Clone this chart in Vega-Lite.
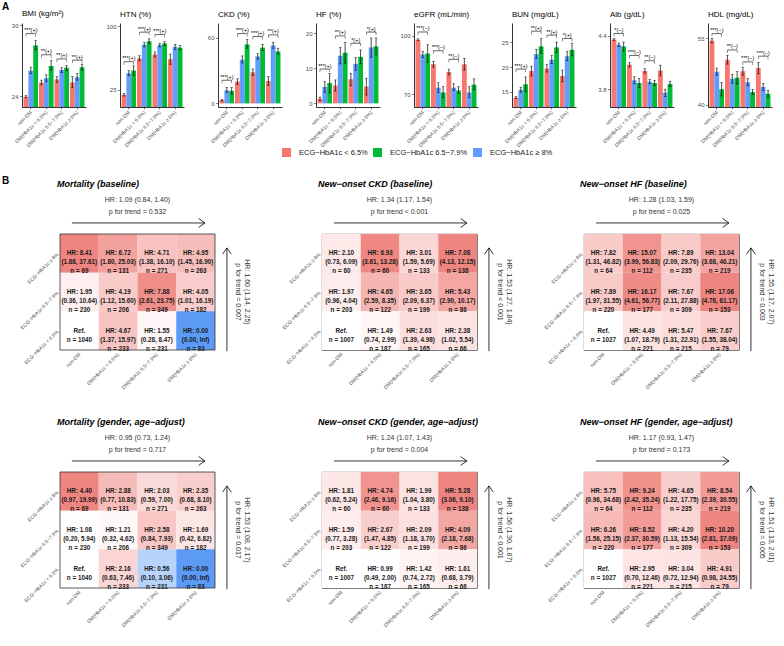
{
"$schema": "https://vega.github.io/schema/vega-lite/v6.json",
"padding": 2,
"background": "white",
"config": {
 "font": "Liberation Sans",
 "view": {"stroke": null},
 "axis": {"grid": false, "domainColor": "#000000", "domainWidth": 0.8, "tickColor": "#333333", "tickWidth": 0.6, "tickSize": 2.5, "labelFontSize": 6, "labelColor": "#4d4d4d", "labelPadding": 1.5},
 "title": {"fontSize": 8, "fontWeight": "normal", "anchor": "start", "frame": "group", "offset": 4, "color": "#000000"}
},
"datasets": {
 "bars": [
  {"m":"BMI","g":"n","s":"L","v":23.95,"lo":23.85,"hi":24.05},{"m":"BMI","g":"n","s":"H","v":26.15,"lo":25.9,"hi":26.45},{"m":"BMI","g":"n","s":"M","v":28.3,"lo":27.95,"hi":28.7},
  {"m":"BMI","g":"a","s":"L","v":25.15,"lo":24.95,"hi":25.35},{"m":"BMI","g":"a","s":"H","v":25.5,"lo":25.25,"hi":25.8},{"m":"BMI","g":"a","s":"M","v":26.55,"lo":26.2,"hi":27.0},
  {"m":"BMI","g":"b","s":"L","v":25.4,"lo":25.15,"hi":25.65},{"m":"BMI","g":"b","s":"H","v":26.2,"lo":26.0,"hi":26.4},{"m":"BMI","g":"b","s":"M","v":26.4,"lo":26.15,"hi":26.6},
  {"m":"BMI","g":"c","s":"L","v":25.15,"lo":24.7,"hi":25.65},{"m":"BMI","g":"c","s":"H","v":25.6,"lo":25.35,"hi":25.9},{"m":"BMI","g":"c","s":"M","v":26.45,"lo":26.2,"hi":26.7},
  {"m":"HTN","g":"n","s":"L","v":19,"lo":17.5,"hi":20.5},{"m":"HTN","g":"n","s":"H","v":44.5,"lo":41.5,"hi":47.5},{"m":"HTN","g":"n","s":"M","v":47.5,"lo":42,"hi":53},
  {"m":"HTN","g":"a","s":"L","v":62,"lo":59,"hi":65},{"m":"HTN","g":"a","s":"H","v":78,"lo":75.5,"hi":80.5},{"m":"HTN","g":"a","s":"M","v":82,"lo":79,"hi":85},
  {"m":"HTN","g":"b","s":"L","v":66.5,"lo":63.5,"hi":69.5},{"m":"HTN","g":"b","s":"H","v":77.5,"lo":75.5,"hi":79.5},{"m":"HTN","g":"b","s":"M","v":79.5,"lo":77,"hi":81.5},
  {"m":"HTN","g":"c","s":"L","v":61,"lo":55,"hi":67},{"m":"HTN","g":"c","s":"H","v":75.5,"lo":72.5,"hi":78.5},{"m":"HTN","g":"c","s":"M","v":74.5,"lo":72,"hi":77},
  {"m":"CKD","g":"n","s":"L","v":3,"lo":2.2,"hi":3.8},{"m":"CKD","g":"n","s":"H","v":12,"lo":10,"hi":14.5},{"m":"CKD","g":"n","s":"M","v":11.5,"lo":8.5,"hi":14.5},
  {"m":"CKD","g":"a","s":"L","v":20,"lo":17.5,"hi":22.5},{"m":"CKD","g":"a","s":"H","v":40,"lo":37,"hi":43.5},{"m":"CKD","g":"a","s":"M","v":54,"lo":50.5,"hi":58.5},
  {"m":"CKD","g":"b","s":"L","v":28.5,"lo":25.5,"hi":31.5},{"m":"CKD","g":"b","s":"H","v":43,"lo":40.5,"hi":45.5},{"m":"CKD","g":"b","s":"M","v":51,"lo":48.5,"hi":54},
  {"m":"CKD","g":"c","s":"L","v":20.5,"lo":16.5,"hi":24.5},{"m":"CKD","g":"c","s":"H","v":53,"lo":50.5,"hi":56},{"m":"CKD","g":"c","s":"M","v":47.5,"lo":45,"hi":50.5},
  {"m":"HF","g":"n","s":"L","v":1.3,"lo":0.8,"hi":1.8},{"m":"HF","g":"n","s":"H","v":4.7,"lo":3.2,"hi":6.2},{"m":"HF","g":"n","s":"M","v":5.8,"lo":3,"hi":8.6},
  {"m":"HF","g":"a","s":"L","v":5.1,"lo":3.5,"hi":6.7},{"m":"HF","g":"a","s":"H","v":13.6,"lo":11.3,"hi":16},{"m":"HF","g":"a","s":"M","v":14.5,"lo":11.5,"hi":17.5},
  {"m":"HF","g":"b","s":"L","v":6.9,"lo":5.1,"hi":8.6},{"m":"HF","g":"b","s":"H","v":11.3,"lo":9.5,"hi":13.1},{"m":"HF","g":"b","s":"M","v":13.3,"lo":11.3,"hi":15.3},
  {"m":"HF","g":"c","s":"L","v":4.8,"lo":2.4,"hi":7.2},{"m":"HF","g":"c","s":"H","v":16,"lo":13.2,"hi":18.7},{"m":"HF","g":"c","s":"M","v":16.3,"lo":13.9,"hi":18.7},
  {"m":"eGFR","g":"n","s":"L","v":98,"lo":97.5,"hi":98.5},{"m":"eGFR","g":"n","s":"H","v":90.5,"lo":89,"hi":92},{"m":"eGFR","g":"n","s":"M","v":91,"lo":86.5,"hi":95.5},
  {"m":"eGFR","g":"a","s":"L","v":85.5,"lo":84,"hi":87},{"m":"eGFR","g":"a","s":"H","v":73.5,"lo":71,"hi":76},{"m":"eGFR","g":"a","s":"M","v":71,"lo":68.5,"hi":74},
  {"m":"eGFR","g":"b","s":"L","v":81.5,"lo":80,"hi":83},{"m":"eGFR","g":"b","s":"H","v":73.5,"lo":72,"hi":75.5},{"m":"eGFR","g":"b","s":"M","v":72,"lo":70.5,"hi":74},
  {"m":"eGFR","g":"c","s":"L","v":85.5,"lo":82.5,"hi":88.5},{"m":"eGFR","g":"c","s":"H","v":71,"lo":68.5,"hi":74},{"m":"eGFR","g":"c","s":"M","v":75,"lo":72.5,"hi":78},
  {"m":"BUN","g":"n","s":"L","v":13.8,"lo":13.6,"hi":14.0},{"m":"BUN","g":"n","s":"H","v":15.4,"lo":14.9,"hi":15.9},{"m":"BUN","g":"n","s":"M","v":16.5,"lo":15,"hi":18},
  {"m":"BUN","g":"a","s":"L","v":19.2,"lo":18.2,"hi":20.2},{"m":"BUN","g":"a","s":"H","v":22.6,"lo":21.8,"hi":23.6},{"m":"BUN","g":"a","s":"M","v":24.2,"lo":22.8,"hi":25.8},
  {"m":"BUN","g":"b","s":"L","v":19.7,"lo":19,"hi":20.5},{"m":"BUN","g":"b","s":"H","v":21.5,"lo":20.7,"hi":22.4},{"m":"BUN","g":"b","s":"M","v":24,"lo":23,"hi":25.1},
  {"m":"BUN","g":"c","s":"L","v":18.2,"lo":17,"hi":19.4},{"m":"BUN","g":"c","s":"H","v":22.2,"lo":21.3,"hi":23.2},{"m":"BUN","g":"c","s":"M","v":23.5,"lo":22.3,"hi":24.8},
  {"m":"Alb","g":"n","s":"L","v":4.36,"lo":4.35,"hi":4.37},{"m":"Alb","g":"n","s":"H","v":4.30,"lo":4.28,"hi":4.32},{"m":"Alb","g":"n","s":"M","v":4.28,"lo":4.23,"hi":4.33},
  {"m":"Alb","g":"a","s":"L","v":4.075,"lo":4.05,"hi":4.10},{"m":"Alb","g":"a","s":"H","v":3.90,"lo":3.86,"hi":3.94},{"m":"Alb","g":"a","s":"M","v":3.87,"lo":3.82,"hi":3.92},
  {"m":"Alb","g":"b","s":"L","v":4.005,"lo":3.98,"hi":4.03},{"m":"Alb","g":"b","s":"H","v":3.885,"lo":3.86,"hi":3.91},{"m":"Alb","g":"b","s":"M","v":3.87,"lo":3.84,"hi":3.90},
  {"m":"Alb","g":"c","s":"L","v":4.01,"lo":3.95,"hi":4.07},{"m":"Alb","g":"c","s":"H","v":3.76,"lo":3.72,"hi":3.80},{"m":"Alb","g":"c","s":"M","v":3.86,"lo":3.83,"hi":3.89},
  {"m":"HDL","g":"n","s":"L","v":54.5,"lo":54,"hi":55},{"m":"HDL","g":"n","s":"H","v":47.5,"lo":46.7,"hi":48.3},{"m":"HDL","g":"n","s":"M","v":43.5,"lo":42,"hi":45},
  {"m":"HDL","g":"a","s":"L","v":50.2,"lo":49.2,"hi":51.2},{"m":"HDL","g":"a","s":"H","v":45.9,"lo":44.9,"hi":46.9},{"m":"HDL","g":"a","s":"M","v":46.1,"lo":44.7,"hi":47.5},
  {"m":"HDL","g":"b","s":"L","v":47.6,"lo":46.7,"hi":48.5},{"m":"HDL","g":"b","s":"H","v":45.1,"lo":44.3,"hi":45.9},{"m":"HDL","g":"b","s":"M","v":42.9,"lo":42.3,"hi":43.5},
  {"m":"HDL","g":"c","s":"L","v":48.3,"lo":47,"hi":49.6},{"m":"HDL","g":"c","s":"H","v":44,"lo":43.2,"hi":44.8},{"m":"HDL","g":"c","s":"M","v":42.5,"lo":41.7,"hi":43.3}
 ],
 "sig": [
  {"m":"BMI","g":"n","y":29.3,"t":"***(+)"},{"m":"BMI","g":"a","y":27.5,"t":"**(+)"},{"m":"BMI","g":"b","y":27.15,"t":"**(+)"},{"m":"BMI","g":"c","y":27.05,"t":"**(+)"},
  {"m":"HTN","g":"n","y":58,"t":"***(+)"},{"m":"HTN","g":"a","y":92.8,"t":"***(+)"},{"m":"HTN","g":"b","y":90,"t":"***(+)"},
  {"m":"CKD","g":"n","y":21.2,"t":"***(+)"},{"m":"CKD","g":"a","y":63.9,"t":"***(+)"},{"m":"CKD","g":"b","y":61.2,"t":"***(+)"},{"m":"CKD","g":"c","y":62.7,"t":"**(+)"},
  {"m":"HF","g":"n","y":9.8,"t":"***(+)"},{"m":"HF","g":"a","y":19.3,"t":"**(+)"},{"m":"HF","g":"b","y":17.2,"t":"*(+)"},{"m":"HF","g":"c","y":20.4,"t":"*(+)"},
  {"m":"eGFR","g":"n","y":102,"t":"***(−)"},{"m":"eGFR","g":"a","y":92.4,"t":"***(−)"},{"m":"eGFR","g":"b","y":88,"t":"**(−)"},
  {"m":"BUN","g":"n","y":19.6,"t":"***(+)"},{"m":"BUN","g":"a","y":27.3,"t":"**(+)"},{"m":"BUN","g":"b","y":26.5,"t":"**(+)"},{"m":"BUN","g":"c","y":25.8,"t":"*(+)"},
  {"m":"Alb","g":"n","y":4.426,"t":"*(−)"},{"m":"Alb","g":"a","y":4.18,"t":"***(−)"},{"m":"Alb","g":"b","y":4.12,"t":"**(−)"},
  {"m":"HDL","g":"n","y":56.1,"t":"***(−)"},{"m":"HDL","g":"a","y":52.4,"t":"**(−)"},{"m":"HDL","g":"b","y":49.7,"t":"***(−)"},{"m":"HDL","g":"c","y":51,"t":"***(−)"}
 ],
 "cells": [
  {"p":1,"c":"n","r":"H","hr":8.41,"lab":"HR: 8.41\n(1.88, 37.61)\nn = 69"},
  {"p":1,"c":"a","r":"H","hr":6.72,"lab":"HR: 6.72\n(1.80, 25.03)\nn = 131"},
  {"p":1,"c":"b","r":"H","hr":4.71,"lab":"HR: 4.71\n(1.38, 16.10)\nn = 271"},
  {"p":1,"c":"c","r":"H","hr":4.95,"lab":"HR: 4.95\n(1.45, 16.90)\nn = 263"},
  {"p":1,"c":"n","r":"M","hr":1.95,"lab":"HR: 1.95\n(0.36, 10.64)\nn = 230"},
  {"p":1,"c":"a","r":"M","hr":4.19,"lab":"HR: 4.19\n(1.12, 15.60)\nn = 206"},
  {"p":1,"c":"b","r":"M","hr":7.88,"lab":"HR: 7.88\n(2.61, 23.75)\nn = 349"},
  {"p":1,"c":"c","r":"M","hr":4.05,"lab":"HR: 4.05\n(1.01, 16.19)\nn = 182"},
  {"p":1,"c":"n","r":"L","hr":1,"lab":"Ref.\nn = 1040"},
  {"p":1,"c":"a","r":"L","hr":4.67,"lab":"HR: 4.67\n(1.37, 15.97)\nn = 233"},
  {"p":1,"c":"b","r":"L","hr":1.55,"lab":"HR: 1.55\n(0.28, 8.47)\nn = 231"},
  {"p":1,"c":"c","r":"L","hr":0,"lab":"HR: 0.00\n(0.00, Inf)\nn = 83"},
  {"p":2,"c":"n","r":"H","hr":2.10,"lab":"HR: 2.10\n(0.73, 6.09)\nn = 60"},
  {"p":2,"c":"a","r":"H","hr":6.93,"lab":"HR: 6.93\n(3.61, 13.28)\nn = 60"},
  {"p":2,"c":"b","r":"H","hr":3.01,"lab":"HR: 3.01\n(1.59, 5.69)\nn = 133"},
  {"p":2,"c":"c","r":"H","hr":7.08,"lab":"HR: 7.08\n(4.13, 12.15)\nn = 138"},
  {"p":2,"c":"n","r":"M","hr":1.97,"lab":"HR: 1.97\n(0.96, 4.04)\nn = 203"},
  {"p":2,"c":"a","r":"M","hr":4.65,"lab":"HR: 4.65\n(2.59, 8.35)\nn = 122"},
  {"p":2,"c":"b","r":"M","hr":3.65,"lab":"HR: 3.65\n(2.09, 6.37)\nn = 199"},
  {"p":2,"c":"c","r":"M","hr":5.43,"lab":"HR: 5.43\n(2.90, 10.17)\nn = 86"},
  {"p":2,"c":"n","r":"L","hr":1,"lab":"Ref.\nn = 1007"},
  {"p":2,"c":"a","r":"L","hr":1.49,"lab":"HR: 1.49\n(0.74, 2.99)\nn = 187"},
  {"p":2,"c":"b","r":"L","hr":2.63,"lab":"HR: 2.63\n(1.39, 4.98)\nn = 165"},
  {"p":2,"c":"c","r":"L","hr":2.38,"lab":"HR: 2.38\n(1.02, 5.54)\nn = 66"},
  {"p":3,"c":"n","r":"H","hr":7.82,"lab":"HR: 7.82\n(1.31, 46.82)\nn = 64"},
  {"p":3,"c":"a","r":"H","hr":15.07,"lab":"HR: 15.07\n(3.99, 56.83)\nn = 112"},
  {"p":3,"c":"b","r":"H","hr":7.89,"lab":"HR: 7.89\n(2.09, 29.76)\nn = 235"},
  {"p":3,"c":"c","r":"H","hr":13.04,"lab":"HR: 13.04\n(3.68, 46.21)\nn = 219"},
  {"p":3,"c":"n","r":"M","hr":7.89,"lab":"HR: 7.89\n(1.97, 31.55)\nn = 220"},
  {"p":3,"c":"a","r":"M","hr":16.17,"lab":"HR: 16.17\n(4.61, 56.77)\nn = 177"},
  {"p":3,"c":"b","r":"M","hr":7.67,"lab":"HR: 7.67\n(2.11, 27.88)\nn = 309"},
  {"p":3,"c":"c","r":"M","hr":17.06,"lab":"HR: 17.06\n(4.76, 61.17)\nn = 153"},
  {"p":3,"c":"n","r":"L","hr":1,"lab":"Ref.\nn = 1027"},
  {"p":3,"c":"a","r":"L","hr":4.49,"lab":"HR: 4.49\n(1.07, 18.79)\nn = 221"},
  {"p":3,"c":"b","r":"L","hr":5.47,"lab":"HR: 5.47\n(1.31, 22.91)\nn = 215"},
  {"p":3,"c":"c","r":"L","hr":7.67,"lab":"HR: 7.67\n(1.55, 38.04)\nn = 79"},
  {"p":4,"c":"n","r":"H","hr":4.40,"lab":"HR: 4.40\n(0.97, 19.99)\nn = 69"},
  {"p":4,"c":"a","r":"H","hr":2.88,"lab":"HR: 2.88\n(0.77, 10.83)\nn = 131"},
  {"p":4,"c":"b","r":"H","hr":2.03,"lab":"HR: 2.03\n(0.59, 7.00)\nn = 271"},
  {"p":4,"c":"c","r":"H","hr":2.35,"lab":"HR: 2.35\n(0.68, 8.10)\nn = 263"},
  {"p":4,"c":"n","r":"M","hr":1.08,"lab":"HR: 1.08\n(0.20, 5.94)\nn = 230"},
  {"p":4,"c":"a","r":"M","hr":1.21,"lab":"HR: 1.21\n(0.32, 4.62)\nn = 206"},
  {"p":4,"c":"b","r":"M","hr":2.58,"lab":"HR: 2.58\n(0.84, 7.93)\nn = 349"},
  {"p":4,"c":"c","r":"M","hr":1.69,"lab":"HR: 1.69\n(0.42, 6.82)\nn = 182"},
  {"p":4,"c":"n","r":"L","hr":1,"lab":"Ref.\nn = 1040"},
  {"p":4,"c":"a","r":"L","hr":2.16,"lab":"HR: 2.16\n(0.63, 7.46)\nn = 233"},
  {"p":4,"c":"b","r":"L","hr":0.56,"lab":"HR: 0.56\n(0.10, 3.06)\nn = 231"},
  {"p":4,"c":"c","r":"L","hr":0,"lab":"HR: 0.00\n(0.00, Inf)\nn = 83"},
  {"p":5,"c":"n","r":"H","hr":1.81,"lab":"HR: 1.81\n(0.62, 5.24)\nn = 60"},
  {"p":5,"c":"a","r":"H","hr":4.74,"lab":"HR: 4.74\n(2.46, 9.16)\nn = 60"},
  {"p":5,"c":"b","r":"H","hr":1.99,"lab":"HR: 1.99\n(1.04, 3.80)\nn = 133"},
  {"p":5,"c":"c","r":"H","hr":5.28,"lab":"HR: 5.28\n(3.06, 9.10)\nn = 138"},
  {"p":5,"c":"n","r":"M","hr":1.59,"lab":"HR: 1.59\n(0.77, 3.28)\nn = 203"},
  {"p":5,"c":"a","r":"M","hr":2.67,"lab":"HR: 2.67\n(1.47, 4.85)\nn = 122"},
  {"p":5,"c":"b","r":"M","hr":2.09,"lab":"HR: 2.09\n(1.18, 3.70)\nn = 199"},
  {"p":5,"c":"c","r":"M","hr":4.09,"lab":"HR: 4.09\n(2.18, 7.68)\nn = 86"},
  {"p":5,"c":"n","r":"L","hr":1,"lab":"Ref.\nn = 1007"},
  {"p":5,"c":"a","r":"L","hr":0.99,"lab":"HR: 0.99\n(0.49, 2.00)\nn = 187"},
  {"p":5,"c":"b","r":"L","hr":1.42,"lab":"HR: 1.42\n(0.74, 2.72)\nn = 165"},
  {"p":5,"c":"c","r":"L","hr":1.61,"lab":"HR: 1.61\n(0.68, 3.79)\nn = 66"},
  {"p":6,"c":"n","r":"H","hr":5.75,"lab":"HR: 5.75\n(0.96, 34.68)\nn = 64"},
  {"p":6,"c":"a","r":"H","hr":9.24,"lab":"HR: 9.24\n(2.42, 35.24)\nn = 112"},
  {"p":6,"c":"b","r":"H","hr":4.65,"lab":"HR: 4.65\n(1.22, 17.75)\nn = 235"},
  {"p":6,"c":"c","r":"H","hr":8.54,"lab":"HR: 8.54\n(2.39, 30.55)\nn = 219"},
  {"p":6,"c":"n","r":"M","hr":6.26,"lab":"HR: 6.26\n(1.56, 25.15)\nn = 220"},
  {"p":6,"c":"a","r":"M","hr":8.52,"lab":"HR: 8.52\n(2.37, 30.59)\nn = 177"},
  {"p":6,"c":"b","r":"M","hr":4.20,"lab":"HR: 4.20\n(1.13, 15.54)\nn = 309"},
  {"p":6,"c":"c","r":"M","hr":10.20,"lab":"HR: 10.20\n(2.81, 37.09)\nn = 153"},
  {"p":6,"c":"n","r":"L","hr":1,"lab":"Ref.\nn = 1027"},
  {"p":6,"c":"a","r":"L","hr":2.95,"lab":"HR: 2.95\n(0.70, 12.46)\nn = 221"},
  {"p":6,"c":"b","r":"L","hr":3.04,"lab":"HR: 3.04\n(0.72, 12.94)\nn = 215"},
  {"p":6,"c":"c","r":"L","hr":4.91,"lab":"HR: 4.91\n(0.98, 24.55)\nn = 79"}
 ],
 "ann": [
  {"p":1,"title":"Mortality (baseline)","hrx":"HR: 1.09 (0.84, 1.40)","px":"p for trend = 0.532","hry":"HR: 1.60 (1.14, 2.25)","py":"p for trend = 0.007","tag":"B"},
  {"p":2,"title":"New−onset CKD (baseline)","hrx":"HR: 1.34 (1.17, 1.54)","px":"p for trend < 0.001","hry":"HR: 1.53 (1.27, 1.84)","py":"p for trend < 0.001","tag":""},
  {"p":3,"title":"New−onset HF (baseline)","hrx":"HR: 1.28 (1.03, 1.59)","px":"p for trend = 0.025","hry":"HR: 1.55 (1.17, 2.07)","py":"p for trend = 0.003","tag":""},
  {"p":4,"title":"Mortality (gender, age−adjust)","hrx":"HR: 0.95 (0.73, 1.24)","px":"p for trend = 0.717","hry":"HR: 1.53 (1.08, 2.17)","py":"p for trend = 0.017","tag":""},
  {"p":5,"title":"New−onset CKD (gender, age−adjust)","hrx":"HR: 1.24 (1.07, 1.43)","px":"p for trend = 0.004","hry":"HR: 1.56 (1.30, 1.87)","py":"p for trend < 0.001","tag":""},
  {"p":6,"title":"New−onset HF (gender, age−adjust)","hrx":"HR: 1.17 (0.93, 1.47)","px":"p for trend = 0.173","hry":"HR: 1.51 (1.13, 2.01)","py":"p for trend = 0.005","tag":""}
 ]
},
"spacing": 18,
"resolve": {"scale": {"color": "independent"}},
"vconcat": [
 {
  "title": {"text": "A", "anchor": "start", "frame": "group", "dx": -20, "fontSize": 10, "fontWeight": "bold", "offset": -2},
  "bounds": "flush",
  "spacing": 34,
  "resolve": {"scale": {"color": "independent"}},
  "hconcat": [
   {"title": "BMI (kg/m²)", "width": 64, "height": 84,
    "layer": [
     {"data": {"name": "bars"}, "transform": [{"filter": "datum.m == 'BMI'"}],
      "encoding": {
       "x": {"field": "g", "type": "nominal", "sort": ["n","a","b","c"], "title": null, "scale": {"paddingInner": 0.06, "paddingOuter": 0.1}, "axis": {"labelAngle": -45, "labelAlign": "right", "labelBaseline": "middle", "labelFontSize": 5, "labelPadding": 2, "tickSize": 2, "labelExpr": "datum.value == 'n' ? 'non-DM' : datum.value == 'a' ? 'DM(HbA1c < 6.5%)' : datum.value == 'b' ? 'DM(HbA1c 6.5−7.9%)' : 'DM(HbA1c ≥ 8%)'"}},
       "xOffset": {"field": "s", "type": "nominal", "sort": ["L","H","M"]},
       "y": {"field": "v", "type": "quantitative", "title": null, "scale": {"domain": [23.07, 30.2], "nice": false, "zero": false}, "axis": {"values": [24,26,28,30], "minExtent": 20}}},
      "layer": [
       {"mark": {"type": "bar", "clip": true}, "encoding": {"color": {"field": "s", "type": "nominal", "scale": {"domain": ["L","M","H"], "range": ["#F8766D","#00BA38","#619CFF"]},
         "legend": {"orient": "none", "legendX": 260, "legendY": 125, "direction": "horizontal", "title": null, "symbolType": "square", "symbolSize": 81, "symbolStrokeWidth": 0, "labelFontSize": 7.5, "labelColor": "#1a1a1a", "labelOffset": 8, "columnPadding": 5,
          "labelExpr": "datum.value == 'L' ? 'ECG−HbA1c < 6.5%' : datum.value == 'M' ? 'ECG−HbA1c 6.5−7.9%' : 'ECG−HbA1c ≥ 8%'"}}}},
       {"mark": {"type": "rule", "color": "#000", "strokeWidth": 0.7}, "encoding": {"y": {"field": "lo", "type": "quantitative"}, "y2": {"field": "hi"}}},
       {"mark": {"type": "tick", "orient": "horizontal", "size": 2.5, "thickness": 0.7, "color": "#000"}, "encoding": {"y": {"field": "lo", "type": "quantitative"}}},
       {"mark": {"type": "tick", "orient": "horizontal", "size": 2.5, "thickness": 0.7, "color": "#000"}, "encoding": {"y": {"field": "hi", "type": "quantitative"}}}
      ]},
     {"data": {"name": "sig"}, "transform": [{"filter": "datum.m == 'BMI'"}],
      "encoding": {"y": {"field": "y", "type": "quantitative"}},
      "layer": [
       {"mark": {"type": "rule", "color": "#000", "strokeWidth": 0.6}, "encoding": {"x": {"field": "g", "type": "nominal", "sort": ["n","a","b","c"], "bandPosition": 0.167}, "x2": {"field": "g", "bandPosition": 0.833}}},
       {"mark": {"type": "tick", "orient": "vertical", "size": 3, "thickness": 0.6, "yOffset": 1.5, "color": "#000"}, "encoding": {"x": {"field": "g", "type": "nominal", "sort": ["n","a","b","c"], "bandPosition": 0.167}}},
       {"mark": {"type": "tick", "orient": "vertical", "size": 3, "thickness": 0.6, "yOffset": 1.5, "color": "#000"}, "encoding": {"x": {"field": "g", "type": "nominal", "sort": ["n","a","b","c"], "bandPosition": 0.833}}},
       {"mark": {"type": "text", "baseline": "bottom", "dy": -0.5, "fontSize": 5.5, "color": "#000"}, "encoding": {"x": {"field": "g", "type": "nominal", "sort": ["n","a","b","c"]}, "text": {"field": "t"}}}
      ]}
    ]},
   {"title": "HTN (%)", "width": 64, "height": 84,
    "layer": [
     {"data": {"name": "bars"}, "transform": [{"filter": "datum.m == 'HTN'"}],
      "encoding": {
       "x": {"field": "g", "type": "nominal", "sort": ["n","a","b","c"], "title": null, "scale": {"paddingInner": 0.06, "paddingOuter": 0.1}, "axis": {"labelAngle": -45, "labelAlign": "right", "labelBaseline": "middle", "labelFontSize": 5, "labelPadding": 2, "tickSize": 2, "labelExpr": "datum.value == 'n' ? 'non-DM' : datum.value == 'a' ? 'DM(HbA1c < 6.5%)' : datum.value == 'b' ? 'DM(HbA1c 6.5−7.9%)' : 'DM(HbA1c ≥ 8%)'"}},
       "xOffset": {"field": "s", "type": "nominal", "sort": ["L","H","M"]},
       "y": {"field": "v", "type": "quantitative", "title": null, "scale": {"domain": [4.6, 103.6], "nice": false, "zero": false}, "axis": {"values": [25,50,75,100]}}},
      "layer": [
       {"mark": {"type": "bar", "clip": true}, "encoding": {"color": {"field": "s", "type": "nominal", "scale": {"domain": ["L","M","H"], "range": ["#F8766D","#00BA38","#619CFF"]}, "legend": null}}},
       {"mark": {"type": "rule", "color": "#000", "strokeWidth": 0.7}, "encoding": {"y": {"field": "lo", "type": "quantitative"}, "y2": {"field": "hi"}}},
       {"mark": {"type": "tick", "orient": "horizontal", "size": 2.5, "thickness": 0.7, "color": "#000"}, "encoding": {"y": {"field": "lo", "type": "quantitative"}}},
       {"mark": {"type": "tick", "orient": "horizontal", "size": 2.5, "thickness": 0.7, "color": "#000"}, "encoding": {"y": {"field": "hi", "type": "quantitative"}}}
      ]},
     {"data": {"name": "sig"}, "transform": [{"filter": "datum.m == 'HTN'"}],
      "encoding": {"y": {"field": "y", "type": "quantitative"}},
      "layer": [
       {"mark": {"type": "rule", "color": "#000", "strokeWidth": 0.6}, "encoding": {"x": {"field": "g", "type": "nominal", "sort": ["n","a","b","c"], "bandPosition": 0.167}, "x2": {"field": "g", "bandPosition": 0.833}}},
       {"mark": {"type": "tick", "orient": "vertical", "size": 3, "thickness": 0.6, "yOffset": 1.5, "color": "#000"}, "encoding": {"x": {"field": "g", "type": "nominal", "sort": ["n","a","b","c"], "bandPosition": 0.167}}},
       {"mark": {"type": "tick", "orient": "vertical", "size": 3, "thickness": 0.6, "yOffset": 1.5, "color": "#000"}, "encoding": {"x": {"field": "g", "type": "nominal", "sort": ["n","a","b","c"], "bandPosition": 0.833}}},
       {"mark": {"type": "text", "baseline": "bottom", "dy": -0.5, "fontSize": 5.5, "color": "#000"}, "encoding": {"x": {"field": "g", "type": "nominal", "sort": ["n","a","b","c"]}, "text": {"field": "t"}}}
      ]}
    ]},
   {"title": "CKD (%)", "width": 64, "height": 84,
    "layer": [
     {"data": {"name": "bars"}, "transform": [{"filter": "datum.m == 'CKD'"}],
      "encoding": {
       "x": {"field": "g", "type": "nominal", "sort": ["n","a","b","c"], "title": null, "scale": {"paddingInner": 0.06, "paddingOuter": 0.1}, "axis": {"labelAngle": -45, "labelAlign": "right", "labelBaseline": "middle", "labelFontSize": 5, "labelPadding": 2, "tickSize": 2, "labelExpr": "datum.value == 'n' ? 'non-DM' : datum.value == 'a' ? 'DM(HbA1c < 6.5%)' : datum.value == 'b' ? 'DM(HbA1c 6.5−7.9%)' : 'DM(HbA1c ≥ 8%)'"}},
       "xOffset": {"field": "s", "type": "nominal", "sort": ["L","H","M"]},
       "y": {"field": "v", "type": "quantitative", "title": null, "scale": {"domain": [-3.3, 73.6], "nice": false, "zero": false}, "axis": {"values": [0,20,40,60]}}},
      "layer": [
       {"mark": {"type": "bar", "clip": true}, "encoding": {"color": {"field": "s", "type": "nominal", "scale": {"domain": ["L","M","H"], "range": ["#F8766D","#00BA38","#619CFF"]}, "legend": null}}},
       {"mark": {"type": "rule", "color": "#000", "strokeWidth": 0.7}, "encoding": {"y": {"field": "lo", "type": "quantitative"}, "y2": {"field": "hi"}}},
       {"mark": {"type": "tick", "orient": "horizontal", "size": 2.5, "thickness": 0.7, "color": "#000"}, "encoding": {"y": {"field": "lo", "type": "quantitative"}}},
       {"mark": {"type": "tick", "orient": "horizontal", "size": 2.5, "thickness": 0.7, "color": "#000"}, "encoding": {"y": {"field": "hi", "type": "quantitative"}}}
      ]},
     {"data": {"name": "sig"}, "transform": [{"filter": "datum.m == 'CKD'"}],
      "encoding": {"y": {"field": "y", "type": "quantitative"}},
      "layer": [
       {"mark": {"type": "rule", "color": "#000", "strokeWidth": 0.6}, "encoding": {"x": {"field": "g", "type": "nominal", "sort": ["n","a","b","c"], "bandPosition": 0.167}, "x2": {"field": "g", "bandPosition": 0.833}}},
       {"mark": {"type": "tick", "orient": "vertical", "size": 3, "thickness": 0.6, "yOffset": 1.5, "color": "#000"}, "encoding": {"x": {"field": "g", "type": "nominal", "sort": ["n","a","b","c"], "bandPosition": 0.167}}},
       {"mark": {"type": "tick", "orient": "vertical", "size": 3, "thickness": 0.6, "yOffset": 1.5, "color": "#000"}, "encoding": {"x": {"field": "g", "type": "nominal", "sort": ["n","a","b","c"], "bandPosition": 0.833}}},
       {"mark": {"type": "text", "baseline": "bottom", "dy": -0.5, "fontSize": 5.5, "color": "#000"}, "encoding": {"x": {"field": "g", "type": "nominal", "sort": ["n","a","b","c"]}, "text": {"field": "t"}}}
      ]}
    ]},
   {"title": "HF (%)", "width": 64, "height": 84,
    "layer": [
     {"data": {"name": "bars"}, "transform": [{"filter": "datum.m == 'HF'"}],
      "encoding": {
       "x": {"field": "g", "type": "nominal", "sort": ["n","a","b","c"], "title": null, "scale": {"paddingInner": 0.06, "paddingOuter": 0.1}, "axis": {"labelAngle": -45, "labelAlign": "right", "labelBaseline": "middle", "labelFontSize": 5, "labelPadding": 2, "tickSize": 2, "labelExpr": "datum.value == 'n' ? 'non-DM' : datum.value == 'a' ? 'DM(HbA1c < 6.5%)' : datum.value == 'b' ? 'DM(HbA1c 6.5−7.9%)' : 'DM(HbA1c ≥ 8%)'"}},
       "xOffset": {"field": "s", "type": "nominal", "sort": ["L","H","M"]},
       "y": {"field": "v", "type": "quantitative", "title": null, "scale": {"domain": [-1.04, 23], "nice": false, "zero": false}, "axis": {"values": [0,5,10,15,20]}}},
      "layer": [
       {"mark": {"type": "bar", "clip": true}, "encoding": {"color": {"field": "s", "type": "nominal", "scale": {"domain": ["L","M","H"], "range": ["#F8766D","#00BA38","#619CFF"]}, "legend": null}}},
       {"mark": {"type": "rule", "color": "#000", "strokeWidth": 0.7}, "encoding": {"y": {"field": "lo", "type": "quantitative"}, "y2": {"field": "hi"}}},
       {"mark": {"type": "tick", "orient": "horizontal", "size": 2.5, "thickness": 0.7, "color": "#000"}, "encoding": {"y": {"field": "lo", "type": "quantitative"}}},
       {"mark": {"type": "tick", "orient": "horizontal", "size": 2.5, "thickness": 0.7, "color": "#000"}, "encoding": {"y": {"field": "hi", "type": "quantitative"}}}
      ]},
     {"data": {"name": "sig"}, "transform": [{"filter": "datum.m == 'HF'"}],
      "encoding": {"y": {"field": "y", "type": "quantitative"}},
      "layer": [
       {"mark": {"type": "rule", "color": "#000", "strokeWidth": 0.6}, "encoding": {"x": {"field": "g", "type": "nominal", "sort": ["n","a","b","c"], "bandPosition": 0.167}, "x2": {"field": "g", "bandPosition": 0.833}}},
       {"mark": {"type": "tick", "orient": "vertical", "size": 3, "thickness": 0.6, "yOffset": 1.5, "color": "#000"}, "encoding": {"x": {"field": "g", "type": "nominal", "sort": ["n","a","b","c"], "bandPosition": 0.167}}},
       {"mark": {"type": "tick", "orient": "vertical", "size": 3, "thickness": 0.6, "yOffset": 1.5, "color": "#000"}, "encoding": {"x": {"field": "g", "type": "nominal", "sort": ["n","a","b","c"], "bandPosition": 0.833}}},
       {"mark": {"type": "text", "baseline": "bottom", "dy": -0.5, "fontSize": 5.5, "color": "#000"}, "encoding": {"x": {"field": "g", "type": "nominal", "sort": ["n","a","b","c"]}, "text": {"field": "t"}}}
      ]}
    ]},
   {"title": "eGFR (mL/min)", "width": 64, "height": 84,
    "layer": [
     {"data": {"name": "bars"}, "transform": [{"filter": "datum.m == 'eGFR'"}],
      "encoding": {
       "x": {"field": "g", "type": "nominal", "sort": ["n","a","b","c"], "title": null, "scale": {"paddingInner": 0.06, "paddingOuter": 0.1}, "axis": {"labelAngle": -45, "labelAlign": "right", "labelBaseline": "middle", "labelFontSize": 5, "labelPadding": 2, "tickSize": 2, "labelExpr": "datum.value == 'n' ? 'non-DM' : datum.value == 'a' ? 'DM(HbA1c < 6.5%)' : datum.value == 'b' ? 'DM(HbA1c 6.5−7.9%)' : 'DM(HbA1c ≥ 8%)'"}},
       "xOffset": {"field": "s", "type": "nominal", "sort": ["L","H","M"]},
       "y": {"field": "v", "type": "quantitative", "title": null, "scale": {"domain": [63.6, 106.6], "nice": false, "zero": false}, "axis": {"values": [70,80,90,100]}}},
      "layer": [
       {"mark": {"type": "bar", "clip": true}, "encoding": {"color": {"field": "s", "type": "nominal", "scale": {"domain": ["L","M","H"], "range": ["#F8766D","#00BA38","#619CFF"]}, "legend": null}}},
       {"mark": {"type": "rule", "color": "#000", "strokeWidth": 0.7}, "encoding": {"y": {"field": "lo", "type": "quantitative"}, "y2": {"field": "hi"}}},
       {"mark": {"type": "tick", "orient": "horizontal", "size": 2.5, "thickness": 0.7, "color": "#000"}, "encoding": {"y": {"field": "lo", "type": "quantitative"}}},
       {"mark": {"type": "tick", "orient": "horizontal", "size": 2.5, "thickness": 0.7, "color": "#000"}, "encoding": {"y": {"field": "hi", "type": "quantitative"}}}
      ]},
     {"data": {"name": "sig"}, "transform": [{"filter": "datum.m == 'eGFR'"}],
      "encoding": {"y": {"field": "y", "type": "quantitative"}},
      "layer": [
       {"mark": {"type": "rule", "color": "#000", "strokeWidth": 0.6}, "encoding": {"x": {"field": "g", "type": "nominal", "sort": ["n","a","b","c"], "bandPosition": 0.167}, "x2": {"field": "g", "bandPosition": 0.833}}},
       {"mark": {"type": "tick", "orient": "vertical", "size": 3, "thickness": 0.6, "yOffset": 1.5, "color": "#000"}, "encoding": {"x": {"field": "g", "type": "nominal", "sort": ["n","a","b","c"], "bandPosition": 0.167}}},
       {"mark": {"type": "tick", "orient": "vertical", "size": 3, "thickness": 0.6, "yOffset": 1.5, "color": "#000"}, "encoding": {"x": {"field": "g", "type": "nominal", "sort": ["n","a","b","c"], "bandPosition": 0.833}}},
       {"mark": {"type": "text", "baseline": "bottom", "dy": -0.5, "fontSize": 5.5, "color": "#000"}, "encoding": {"x": {"field": "g", "type": "nominal", "sort": ["n","a","b","c"]}, "text": {"field": "t"}}}
      ]}
    ]},
   {"title": "BUN (mg/dL)", "width": 64, "height": 84,
    "layer": [
     {"data": {"name": "bars"}, "transform": [{"filter": "datum.m == 'BUN'"}],
      "encoding": {
       "x": {"field": "g", "type": "nominal", "sort": ["n","a","b","c"], "title": null, "scale": {"paddingInner": 0.06, "paddingOuter": 0.1}, "axis": {"labelAngle": -45, "labelAlign": "right", "labelBaseline": "middle", "labelFontSize": 5, "labelPadding": 2, "tickSize": 2, "labelExpr": "datum.value == 'n' ? 'non-DM' : datum.value == 'a' ? 'DM(HbA1c < 6.5%)' : datum.value == 'b' ? 'DM(HbA1c 6.5−7.9%)' : 'DM(HbA1c ≥ 8%)'"}},
       "xOffset": {"field": "s", "type": "nominal", "sort": ["L","H","M"]},
       "y": {"field": "v", "type": "quantitative", "title": null, "scale": {"domain": [11.9, 28.96], "nice": false, "zero": false}, "axis": {"values": [15,20,25]}}},
      "layer": [
       {"mark": {"type": "bar", "clip": true}, "encoding": {"color": {"field": "s", "type": "nominal", "scale": {"domain": ["L","M","H"], "range": ["#F8766D","#00BA38","#619CFF"]}, "legend": null}}},
       {"mark": {"type": "rule", "color": "#000", "strokeWidth": 0.7}, "encoding": {"y": {"field": "lo", "type": "quantitative"}, "y2": {"field": "hi"}}},
       {"mark": {"type": "tick", "orient": "horizontal", "size": 2.5, "thickness": 0.7, "color": "#000"}, "encoding": {"y": {"field": "lo", "type": "quantitative"}}},
       {"mark": {"type": "tick", "orient": "horizontal", "size": 2.5, "thickness": 0.7, "color": "#000"}, "encoding": {"y": {"field": "hi", "type": "quantitative"}}}
      ]},
     {"data": {"name": "sig"}, "transform": [{"filter": "datum.m == 'BUN'"}],
      "encoding": {"y": {"field": "y", "type": "quantitative"}},
      "layer": [
       {"mark": {"type": "rule", "color": "#000", "strokeWidth": 0.6}, "encoding": {"x": {"field": "g", "type": "nominal", "sort": ["n","a","b","c"], "bandPosition": 0.167}, "x2": {"field": "g", "bandPosition": 0.833}}},
       {"mark": {"type": "tick", "orient": "vertical", "size": 3, "thickness": 0.6, "yOffset": 1.5, "color": "#000"}, "encoding": {"x": {"field": "g", "type": "nominal", "sort": ["n","a","b","c"], "bandPosition": 0.167}}},
       {"mark": {"type": "tick", "orient": "vertical", "size": 3, "thickness": 0.6, "yOffset": 1.5, "color": "#000"}, "encoding": {"x": {"field": "g", "type": "nominal", "sort": ["n","a","b","c"], "bandPosition": 0.833}}},
       {"mark": {"type": "text", "baseline": "bottom", "dy": -0.5, "fontSize": 5.5, "color": "#000"}, "encoding": {"x": {"field": "g", "type": "nominal", "sort": ["n","a","b","c"]}, "text": {"field": "t"}}}
      ]}
    ]},
   {"title": "Alb (g/dL)", "width": 64, "height": 84,
    "layer": [
     {"data": {"name": "bars"}, "transform": [{"filter": "datum.m == 'Alb'"}],
      "encoding": {
       "x": {"field": "g", "type": "nominal", "sort": ["n","a","b","c"], "title": null, "scale": {"paddingInner": 0.06, "paddingOuter": 0.1}, "axis": {"labelAngle": -45, "labelAlign": "right", "labelBaseline": "middle", "labelFontSize": 5, "labelPadding": 2, "tickSize": 2, "labelExpr": "datum.value == 'n' ? 'non-DM' : datum.value == 'a' ? 'DM(HbA1c < 6.5%)' : datum.value == 'b' ? 'DM(HbA1c 6.5−7.9%)' : 'DM(HbA1c ≥ 8%)'"}},
       "xOffset": {"field": "s", "type": "nominal", "sort": ["L","H","M"]},
       "y": {"field": "v", "type": "quantitative", "title": null, "scale": {"domain": [3.6, 4.545], "nice": false, "zero": false}, "axis": {"values": [3.8,4.0,4.2,4.4], "format": ".1f"}}},
      "layer": [
       {"mark": {"type": "bar", "clip": true}, "encoding": {"color": {"field": "s", "type": "nominal", "scale": {"domain": ["L","M","H"], "range": ["#F8766D","#00BA38","#619CFF"]}, "legend": null}}},
       {"mark": {"type": "rule", "color": "#000", "strokeWidth": 0.7}, "encoding": {"y": {"field": "lo", "type": "quantitative"}, "y2": {"field": "hi"}}},
       {"mark": {"type": "tick", "orient": "horizontal", "size": 2.5, "thickness": 0.7, "color": "#000"}, "encoding": {"y": {"field": "lo", "type": "quantitative"}}},
       {"mark": {"type": "tick", "orient": "horizontal", "size": 2.5, "thickness": 0.7, "color": "#000"}, "encoding": {"y": {"field": "hi", "type": "quantitative"}}}
      ]},
     {"data": {"name": "sig"}, "transform": [{"filter": "datum.m == 'Alb'"}],
      "encoding": {"y": {"field": "y", "type": "quantitative"}},
      "layer": [
       {"mark": {"type": "rule", "color": "#000", "strokeWidth": 0.6}, "encoding": {"x": {"field": "g", "type": "nominal", "sort": ["n","a","b","c"], "bandPosition": 0.167}, "x2": {"field": "g", "bandPosition": 0.833}}},
       {"mark": {"type": "tick", "orient": "vertical", "size": 3, "thickness": 0.6, "yOffset": 1.5, "color": "#000"}, "encoding": {"x": {"field": "g", "type": "nominal", "sort": ["n","a","b","c"], "bandPosition": 0.167}}},
       {"mark": {"type": "tick", "orient": "vertical", "size": 3, "thickness": 0.6, "yOffset": 1.5, "color": "#000"}, "encoding": {"x": {"field": "g", "type": "nominal", "sort": ["n","a","b","c"], "bandPosition": 0.833}}},
       {"mark": {"type": "text", "baseline": "bottom", "dy": -0.5, "fontSize": 5.5, "color": "#000"}, "encoding": {"x": {"field": "g", "type": "nominal", "sort": ["n","a","b","c"]}, "text": {"field": "t"}}}
      ]}
    ]},
   {"title": "HDL (mg/dL)", "width": 64, "height": 84,
    "layer": [
     {"data": {"name": "bars"}, "transform": [{"filter": "datum.m == 'HDL'"}],
      "encoding": {
       "x": {"field": "g", "type": "nominal", "sort": ["n","a","b","c"], "title": null, "scale": {"paddingInner": 0.06, "paddingOuter": 0.1}, "axis": {"labelAngle": -45, "labelAlign": "right", "labelBaseline": "middle", "labelFontSize": 5, "labelPadding": 2, "tickSize": 2, "labelExpr": "datum.value == 'n' ? 'non-DM' : datum.value == 'a' ? 'DM(HbA1c < 6.5%)' : datum.value == 'b' ? 'DM(HbA1c 6.5−7.9%)' : 'DM(HbA1c ≥ 8%)'"}},
       "xOffset": {"field": "s", "type": "nominal", "sort": ["L","H","M"]},
       "y": {"field": "v", "type": "quantitative", "title": null, "scale": {"domain": [39.5, 58.5], "nice": false, "zero": false}, "axis": {"values": [40,45,50,55]}}},
      "layer": [
       {"mark": {"type": "bar", "clip": true}, "encoding": {"color": {"field": "s", "type": "nominal", "scale": {"domain": ["L","M","H"], "range": ["#F8766D","#00BA38","#619CFF"]}, "legend": null}}},
       {"mark": {"type": "rule", "color": "#000", "strokeWidth": 0.7}, "encoding": {"y": {"field": "lo", "type": "quantitative"}, "y2": {"field": "hi"}}},
       {"mark": {"type": "tick", "orient": "horizontal", "size": 2.5, "thickness": 0.7, "color": "#000"}, "encoding": {"y": {"field": "lo", "type": "quantitative"}}},
       {"mark": {"type": "tick", "orient": "horizontal", "size": 2.5, "thickness": 0.7, "color": "#000"}, "encoding": {"y": {"field": "hi", "type": "quantitative"}}}
      ]},
     {"data": {"name": "sig"}, "transform": [{"filter": "datum.m == 'HDL'"}],
      "encoding": {"y": {"field": "y", "type": "quantitative"}},
      "layer": [
       {"mark": {"type": "rule", "color": "#000", "strokeWidth": 0.6}, "encoding": {"x": {"field": "g", "type": "nominal", "sort": ["n","a","b","c"], "bandPosition": 0.167}, "x2": {"field": "g", "bandPosition": 0.833}}},
       {"mark": {"type": "tick", "orient": "vertical", "size": 3, "thickness": 0.6, "yOffset": 1.5, "color": "#000"}, "encoding": {"x": {"field": "g", "type": "nominal", "sort": ["n","a","b","c"], "bandPosition": 0.167}}},
       {"mark": {"type": "tick", "orient": "vertical", "size": 3, "thickness": 0.6, "yOffset": 1.5, "color": "#000"}, "encoding": {"x": {"field": "g", "type": "nominal", "sort": ["n","a","b","c"], "bandPosition": 0.833}}},
       {"mark": {"type": "text", "baseline": "bottom", "dy": -0.5, "fontSize": 5.5, "color": "#000"}, "encoding": {"x": {"field": "g", "type": "nominal", "sort": ["n","a","b","c"]}, "text": {"field": "t"}}}
      ]}
    ]}
  ]
 },
 {
  "spacing": 26,
  "resolve": {"scale": {"color": "independent"}},
  "vconcat": [
   {"bounds": "flush", "spacing": 107, "resolve": {"scale": {"color": "independent"}},
    "hconcat": [
     {"width": 193, "height": 116,
      "resolve": {"scale": {"x": "independent", "y": "independent"}},
      "layer": [
       {"data": {"name": "cells"}, "transform": [{"filter": "datum.p == 1"}],
        "encoding": {
         "x": {"field": "c", "type": "nominal", "sort": ["n","a","b","c"], "title": null, "scale": {"paddingInner": 0, "paddingOuter": 0, "range": [38, 193]}, "axis": {"labelAngle": -45, "labelAlign": "right", "labelBaseline": "middle", "labelFontSize": 5, "labelPadding": 3, "domain": false, "ticks": false, "labelExpr": "datum.value == 'n' ? 'non-DM' : datum.value == 'a' ? 'DM(HbA1c < 6.5%)' : datum.value == 'b' ? 'DM(HbA1c 6.5−7.9%)' : 'DM(HbA1c ≥ 8%)'"}},
         "y": {"field": "r", "type": "nominal", "sort": ["H","M","L"], "title": null, "scale": {"paddingInner": 0, "paddingOuter": 0}, "axis": {"labelAngle": -45, "labelAlign": "right", "labelBaseline": "middle", "labelFontSize": 5, "labelPadding": 3, "domain": false, "ticks": false, "offset": -38, "labelExpr": "datum.value == 'H' ? 'ECG−HbA1c ≥ 8%' : datum.value == 'M' ? 'ECG−HbA1c 6.5−7.9%' : 'ECG−HbA1c < 6.5%'"}}},
        "layer": [
         {"mark": {"type": "rect"}, "encoding": {"color": {"field": "hr", "type": "quantitative", "scale": {"domain": [0, 1, 8.41], "range": ["#5B9BF6", "#FFFFFF", "#EF8580"], "interpolate": "rgb"}, "legend": null}}},
         {"mark": {"type": "text", "lineBreak": "\n", "lineHeight": 9, "fontSize": 6.3, "fontWeight": "bold", "color": "#1a1a1a"}, "encoding": {"text": {"field": "lab"}}}
        ]},
       {"data": {"name": "ann"}, "transform": [{"filter": "datum.p == 1"}],
        "layer": [
         {"mark": {"type": "rect", "fill": "transparent", "stroke": "#333333", "strokeWidth": 0.8}, "encoding": {"x": {"datum": 0, "type": "quantitative", "scale": {"domain": [0, 1], "range": [38, 193]}, "axis": null}, "x2": {"datum": 1}, "y": {"datum": 0, "type": "quantitative", "scale": {"domain": [0, 1]}, "axis": null}, "y2": {"datum": 1}}},
         {"mark": {"type": "text", "align": "left", "baseline": "middle", "fontSize": 10, "fontWeight": "bold", "color": "#000"}, "encoding": {"x": {"datum": -0.374, "type": "quantitative", "scale": {"domain": [0, 1], "range": [38, 193]}, "axis": null}, "y": {"datum": 1.46, "type": "quantitative", "scale": {"domain": [0, 1]}, "axis": null}, "text": {"field": "tag"}}},
         {"mark": {"type": "text", "align": "left", "baseline": "middle", "fontSize": 9, "fontWeight": "bold", "fontStyle": "italic", "color": "#000"}, "encoding": {"x": {"datum": -0.02, "type": "quantitative", "scale": {"domain": [0, 1], "range": [38, 193]}, "axis": null}, "y": {"datum": 1.431, "type": "quantitative", "scale": {"domain": [0, 1]}, "axis": null}, "text": {"field": "title"}}},
         {"mark": {"type": "text", "align": "center", "baseline": "middle", "fontSize": 7, "color": "#333"}, "encoding": {"x": {"datum": 0.5, "type": "quantitative", "scale": {"domain": [0, 1], "range": [38, 193]}, "axis": null}, "y": {"datum": 1.293, "type": "quantitative", "scale": {"domain": [0, 1]}, "axis": null}, "text": {"field": "hrx"}}},
         {"mark": {"type": "text", "align": "center", "baseline": "middle", "fontSize": 7, "color": "#333"}, "encoding": {"x": {"datum": 0.5, "type": "quantitative", "scale": {"domain": [0, 1], "range": [38, 193]}, "axis": null}, "y": {"datum": 1.19, "type": "quantitative", "scale": {"domain": [0, 1]}, "axis": null}, "text": {"field": "px"}}},
         {"mark": {"type": "rule", "color": "#000", "strokeWidth": 0.8}, "encoding": {"x": {"datum": 0.077, "type": "quantitative", "scale": {"domain": [0, 1], "range": [38, 193]}, "axis": null}, "x2": {"datum": 0.935}, "y": {"datum": 1.095, "type": "quantitative", "scale": {"domain": [0, 1]}, "axis": null}}},
         {"mark": {"type": "point", "shape": "M-1,-0.7L0,0L-1,0.7", "filled": false, "size": 160, "strokeWidth": 0.8, "color": "#000", "opacity": 1}, "encoding": {"x": {"datum": 0.935, "type": "quantitative", "scale": {"domain": [0, 1], "range": [38, 193]}, "axis": null}, "y": {"datum": 1.095, "type": "quantitative", "scale": {"domain": [0, 1]}, "axis": null}}},
         {"mark": {"type": "rule", "color": "#000", "strokeWidth": 0.8}, "encoding": {"x": {"datum": 1.077, "type": "quantitative", "scale": {"domain": [0, 1], "range": [38, 193]}, "axis": null}, "y": {"datum": -0.01, "type": "quantitative", "scale": {"domain": [0, 1]}, "axis": null}, "y2": {"datum": 0.88}}},
         {"mark": {"type": "point", "shape": "M-1,-0.7L0,0L-1,0.7", "filled": false, "size": 160, "strokeWidth": 0.8, "color": "#000", "opacity": 1, "angle": -90}, "encoding": {"x": {"datum": 1.077, "type": "quantitative", "scale": {"domain": [0, 1], "range": [38, 193]}, "axis": null}, "y": {"datum": 0.88, "type": "quantitative", "scale": {"domain": [0, 1]}, "axis": null}}},
         {"mark": {"type": "text", "align": "center", "baseline": "middle", "angle": 90, "fontSize": 7, "color": "#333"}, "encoding": {"x": {"datum": 1.206, "type": "quantitative", "scale": {"domain": [0, 1], "range": [38, 193]}, "axis": null}, "y": {"datum": 0.5, "type": "quantitative", "scale": {"domain": [0, 1]}, "axis": null}, "text": {"field": "hry"}}},
         {"mark": {"type": "text", "align": "center", "baseline": "middle", "angle": 90, "fontSize": 7, "color": "#333"}, "encoding": {"x": {"datum": 1.148, "type": "quantitative", "scale": {"domain": [0, 1], "range": [38, 193]}, "axis": null}, "y": {"datum": 0.5, "type": "quantitative", "scale": {"domain": [0, 1]}, "axis": null}, "text": {"field": "py"}}}
        ]}
      ]},
     {"width": 155, "height": 116, "view": {"stroke": "#333333", "strokeWidth": 0.8},
      "resolve": {"scale": {"x": "independent", "y": "independent"}},
      "layer": [
       {"data": {"name": "cells"}, "transform": [{"filter": "datum.p == 2"}],
        "encoding": {
         "x": {"field": "c", "type": "nominal", "sort": ["n","a","b","c"], "title": null, "scale": {"paddingInner": 0, "paddingOuter": 0}, "axis": {"labelAngle": -45, "labelAlign": "right", "labelBaseline": "middle", "labelFontSize": 5, "labelPadding": 3, "domain": false, "ticks": false, "labelExpr": "datum.value == 'n' ? 'non-DM' : datum.value == 'a' ? 'DM(HbA1c < 6.5%)' : datum.value == 'b' ? 'DM(HbA1c 6.5−7.9%)' : 'DM(HbA1c ≥ 8%)'"}},
         "y": {"field": "r", "type": "nominal", "sort": ["H","M","L"], "title": null, "scale": {"paddingInner": 0, "paddingOuter": 0}, "axis": {"labelAngle": -45, "labelAlign": "right", "labelBaseline": "middle", "labelFontSize": 5, "labelPadding": 3, "domain": false, "ticks": false, "labelExpr": "datum.value == 'H' ? 'ECG−HbA1c ≥ 8%' : datum.value == 'M' ? 'ECG−HbA1c 6.5−7.9%' : 'ECG−HbA1c < 6.5%'"}}},
        "layer": [
         {"mark": {"type": "rect"}, "encoding": {"color": {"field": "hr", "type": "quantitative", "scale": {"domain": [0, 1, 7.08], "range": ["#5B9BF6", "#FFFFFF", "#EF8580"], "interpolate": "rgb"}, "legend": null}}},
         {"mark": {"type": "text", "lineBreak": "\n", "lineHeight": 9, "fontSize": 6.3, "fontWeight": "bold", "color": "#1a1a1a"}, "encoding": {"text": {"field": "lab"}}}
        ]},
       {"data": {"name": "ann"}, "transform": [{"filter": "datum.p == 2"}],
        "layer": [
         {"mark": {"type": "text", "align": "left", "baseline": "middle", "fontSize": 9, "fontWeight": "bold", "fontStyle": "italic", "color": "#000"}, "encoding": {"x": {"datum": -0.026, "type": "quantitative", "scale": {"domain": [0, 1]}, "axis": null}, "y": {"datum": 1.431, "type": "quantitative", "scale": {"domain": [0, 1]}, "axis": null}, "text": {"field": "title"}}},
         {"mark": {"type": "text", "align": "center", "baseline": "middle", "fontSize": 7, "color": "#333"}, "encoding": {"x": {"datum": 0.5, "type": "quantitative", "scale": {"domain": [0, 1]}, "axis": null}, "y": {"datum": 1.293, "type": "quantitative", "scale": {"domain": [0, 1]}, "axis": null}, "text": {"field": "hrx"}}},
         {"mark": {"type": "text", "align": "center", "baseline": "middle", "fontSize": 7, "color": "#333"}, "encoding": {"x": {"datum": 0.5, "type": "quantitative", "scale": {"domain": [0, 1]}, "axis": null}, "y": {"datum": 1.19, "type": "quantitative", "scale": {"domain": [0, 1]}, "axis": null}, "text": {"field": "px"}}},
         {"mark": {"type": "rule", "color": "#000", "strokeWidth": 0.8}, "encoding": {"x": {"datum": 0.077, "type": "quantitative", "scale": {"domain": [0, 1]}, "axis": null}, "x2": {"datum": 0.935}, "y": {"datum": 1.095, "type": "quantitative", "scale": {"domain": [0, 1]}, "axis": null}}},
         {"mark": {"type": "point", "shape": "M-1,-0.7L0,0L-1,0.7", "filled": false, "size": 160, "strokeWidth": 0.8, "color": "#000", "opacity": 1}, "encoding": {"x": {"datum": 0.935, "type": "quantitative", "scale": {"domain": [0, 1]}, "axis": null}, "y": {"datum": 1.095, "type": "quantitative", "scale": {"domain": [0, 1]}, "axis": null}}},
         {"mark": {"type": "rule", "color": "#000", "strokeWidth": 0.8}, "encoding": {"x": {"datum": 1.077, "type": "quantitative", "scale": {"domain": [0, 1]}, "axis": null}, "y": {"datum": -0.01, "type": "quantitative", "scale": {"domain": [0, 1]}, "axis": null}, "y2": {"datum": 0.88}}},
         {"mark": {"type": "point", "shape": "M-1,-0.7L0,0L-1,0.7", "filled": false, "size": 160, "strokeWidth": 0.8, "color": "#000", "opacity": 1, "angle": -90}, "encoding": {"x": {"datum": 1.077, "type": "quantitative", "scale": {"domain": [0, 1]}, "axis": null}, "y": {"datum": 0.88, "type": "quantitative", "scale": {"domain": [0, 1]}, "axis": null}}},
         {"mark": {"type": "text", "align": "center", "baseline": "middle", "angle": 90, "fontSize": 7, "color": "#333"}, "encoding": {"x": {"datum": 1.206, "type": "quantitative", "scale": {"domain": [0, 1]}, "axis": null}, "y": {"datum": 0.5, "type": "quantitative", "scale": {"domain": [0, 1]}, "axis": null}, "text": {"field": "hry"}}},
         {"mark": {"type": "text", "align": "center", "baseline": "middle", "angle": 90, "fontSize": 7, "color": "#333"}, "encoding": {"x": {"datum": 1.148, "type": "quantitative", "scale": {"domain": [0, 1]}, "axis": null}, "y": {"datum": 0.5, "type": "quantitative", "scale": {"domain": [0, 1]}, "axis": null}, "text": {"field": "py"}}}
        ]}
      ]},
     {"width": 155, "height": 116, "view": {"stroke": "#333333", "strokeWidth": 0.8},
      "resolve": {"scale": {"x": "independent", "y": "independent"}},
      "layer": [
       {"data": {"name": "cells"}, "transform": [{"filter": "datum.p == 3"}],
        "encoding": {
         "x": {"field": "c", "type": "nominal", "sort": ["n","a","b","c"], "title": null, "scale": {"paddingInner": 0, "paddingOuter": 0}, "axis": {"labelAngle": -45, "labelAlign": "right", "labelBaseline": "middle", "labelFontSize": 5, "labelPadding": 3, "domain": false, "ticks": false, "labelExpr": "datum.value == 'n' ? 'non-DM' : datum.value == 'a' ? 'DM(HbA1c < 6.5%)' : datum.value == 'b' ? 'DM(HbA1c 6.5−7.9%)' : 'DM(HbA1c ≥ 8%)'"}},
         "y": {"field": "r", "type": "nominal", "sort": ["H","M","L"], "title": null, "scale": {"paddingInner": 0, "paddingOuter": 0}, "axis": {"labelAngle": -45, "labelAlign": "right", "labelBaseline": "middle", "labelFontSize": 5, "labelPadding": 3, "domain": false, "ticks": false, "labelExpr": "datum.value == 'H' ? 'ECG−HbA1c ≥ 8%' : datum.value == 'M' ? 'ECG−HbA1c 6.5−7.9%' : 'ECG−HbA1c < 6.5%'"}}},
        "layer": [
         {"mark": {"type": "rect"}, "encoding": {"color": {"field": "hr", "type": "quantitative", "scale": {"domain": [0, 1, 17.06], "range": ["#5B9BF6", "#FFFFFF", "#EF8580"], "interpolate": "rgb"}, "legend": null}}},
         {"mark": {"type": "text", "lineBreak": "\n", "lineHeight": 9, "fontSize": 6.3, "fontWeight": "bold", "color": "#1a1a1a"}, "encoding": {"text": {"field": "lab"}}}
        ]},
       {"data": {"name": "ann"}, "transform": [{"filter": "datum.p == 3"}],
        "layer": [
         {"mark": {"type": "text", "align": "left", "baseline": "middle", "fontSize": 9, "fontWeight": "bold", "fontStyle": "italic", "color": "#000"}, "encoding": {"x": {"datum": -0.026, "type": "quantitative", "scale": {"domain": [0, 1]}, "axis": null}, "y": {"datum": 1.431, "type": "quantitative", "scale": {"domain": [0, 1]}, "axis": null}, "text": {"field": "title"}}},
         {"mark": {"type": "text", "align": "center", "baseline": "middle", "fontSize": 7, "color": "#333"}, "encoding": {"x": {"datum": 0.5, "type": "quantitative", "scale": {"domain": [0, 1]}, "axis": null}, "y": {"datum": 1.293, "type": "quantitative", "scale": {"domain": [0, 1]}, "axis": null}, "text": {"field": "hrx"}}},
         {"mark": {"type": "text", "align": "center", "baseline": "middle", "fontSize": 7, "color": "#333"}, "encoding": {"x": {"datum": 0.5, "type": "quantitative", "scale": {"domain": [0, 1]}, "axis": null}, "y": {"datum": 1.19, "type": "quantitative", "scale": {"domain": [0, 1]}, "axis": null}, "text": {"field": "px"}}},
         {"mark": {"type": "rule", "color": "#000", "strokeWidth": 0.8}, "encoding": {"x": {"datum": 0.077, "type": "quantitative", "scale": {"domain": [0, 1]}, "axis": null}, "x2": {"datum": 0.935}, "y": {"datum": 1.095, "type": "quantitative", "scale": {"domain": [0, 1]}, "axis": null}}},
         {"mark": {"type": "point", "shape": "M-1,-0.7L0,0L-1,0.7", "filled": false, "size": 160, "strokeWidth": 0.8, "color": "#000", "opacity": 1}, "encoding": {"x": {"datum": 0.935, "type": "quantitative", "scale": {"domain": [0, 1]}, "axis": null}, "y": {"datum": 1.095, "type": "quantitative", "scale": {"domain": [0, 1]}, "axis": null}}},
         {"mark": {"type": "rule", "color": "#000", "strokeWidth": 0.8}, "encoding": {"x": {"datum": 1.077, "type": "quantitative", "scale": {"domain": [0, 1]}, "axis": null}, "y": {"datum": -0.01, "type": "quantitative", "scale": {"domain": [0, 1]}, "axis": null}, "y2": {"datum": 0.88}}},
         {"mark": {"type": "point", "shape": "M-1,-0.7L0,0L-1,0.7", "filled": false, "size": 160, "strokeWidth": 0.8, "color": "#000", "opacity": 1, "angle": -90}, "encoding": {"x": {"datum": 1.077, "type": "quantitative", "scale": {"domain": [0, 1]}, "axis": null}, "y": {"datum": 0.88, "type": "quantitative", "scale": {"domain": [0, 1]}, "axis": null}}},
         {"mark": {"type": "text", "align": "center", "baseline": "middle", "angle": 90, "fontSize": 7, "color": "#333"}, "encoding": {"x": {"datum": 1.206, "type": "quantitative", "scale": {"domain": [0, 1]}, "axis": null}, "y": {"datum": 0.5, "type": "quantitative", "scale": {"domain": [0, 1]}, "axis": null}, "text": {"field": "hry"}}},
         {"mark": {"type": "text", "align": "center", "baseline": "middle", "angle": 90, "fontSize": 7, "color": "#333"}, "encoding": {"x": {"datum": 1.148, "type": "quantitative", "scale": {"domain": [0, 1]}, "axis": null}, "y": {"datum": 0.5, "type": "quantitative", "scale": {"domain": [0, 1]}, "axis": null}, "text": {"field": "py"}}}
        ]}
      ]}
    ]},
   {"bounds": "flush", "spacing": 107, "resolve": {"scale": {"color": "independent"}},
    "hconcat": [
     {"width": 193, "height": 116,
      "resolve": {"scale": {"x": "independent", "y": "independent"}},
      "layer": [
       {"data": {"name": "cells"}, "transform": [{"filter": "datum.p == 4"}],
        "encoding": {
         "x": {"field": "c", "type": "nominal", "sort": ["n","a","b","c"], "title": null, "scale": {"paddingInner": 0, "paddingOuter": 0, "range": [38, 193]}, "axis": {"labelAngle": -45, "labelAlign": "right", "labelBaseline": "middle", "labelFontSize": 5, "labelPadding": 3, "domain": false, "ticks": false, "labelExpr": "datum.value == 'n' ? 'non-DM' : datum.value == 'a' ? 'DM(HbA1c < 6.5%)' : datum.value == 'b' ? 'DM(HbA1c 6.5−7.9%)' : 'DM(HbA1c ≥ 8%)'"}},
         "y": {"field": "r", "type": "nominal", "sort": ["H","M","L"], "title": null, "scale": {"paddingInner": 0, "paddingOuter": 0}, "axis": {"labelAngle": -45, "labelAlign": "right", "labelBaseline": "middle", "labelFontSize": 5, "labelPadding": 3, "domain": false, "ticks": false, "offset": -38, "labelExpr": "datum.value == 'H' ? 'ECG−HbA1c ≥ 8%' : datum.value == 'M' ? 'ECG−HbA1c 6.5−7.9%' : 'ECG−HbA1c < 6.5%'"}}},
        "layer": [
         {"mark": {"type": "rect"}, "encoding": {"color": {"field": "hr", "type": "quantitative", "scale": {"domain": [0, 1, 4.40], "range": ["#5B9BF6", "#FFFFFF", "#EF8580"], "interpolate": "rgb"}, "legend": null}}},
         {"mark": {"type": "text", "lineBreak": "\n", "lineHeight": 9, "fontSize": 6.3, "fontWeight": "bold", "color": "#1a1a1a"}, "encoding": {"text": {"field": "lab"}}}
        ]},
       {"data": {"name": "ann"}, "transform": [{"filter": "datum.p == 4"}],
        "layer": [
         {"mark": {"type": "rect", "fill": "transparent", "stroke": "#333333", "strokeWidth": 0.8}, "encoding": {"x": {"datum": 0, "type": "quantitative", "scale": {"domain": [0, 1], "range": [38, 193]}, "axis": null}, "x2": {"datum": 1}, "y": {"datum": 0, "type": "quantitative", "scale": {"domain": [0, 1]}, "axis": null}, "y2": {"datum": 1}}},
         {"mark": {"type": "text", "align": "left", "baseline": "middle", "fontSize": 9, "fontWeight": "bold", "fontStyle": "italic", "color": "#000"}, "encoding": {"x": {"datum": -0.02, "type": "quantitative", "scale": {"domain": [0, 1], "range": [38, 193]}, "axis": null}, "y": {"datum": 1.431, "type": "quantitative", "scale": {"domain": [0, 1]}, "axis": null}, "text": {"field": "title"}}},
         {"mark": {"type": "text", "align": "center", "baseline": "middle", "fontSize": 7, "color": "#333"}, "encoding": {"x": {"datum": 0.5, "type": "quantitative", "scale": {"domain": [0, 1], "range": [38, 193]}, "axis": null}, "y": {"datum": 1.293, "type": "quantitative", "scale": {"domain": [0, 1]}, "axis": null}, "text": {"field": "hrx"}}},
         {"mark": {"type": "text", "align": "center", "baseline": "middle", "fontSize": 7, "color": "#333"}, "encoding": {"x": {"datum": 0.5, "type": "quantitative", "scale": {"domain": [0, 1], "range": [38, 193]}, "axis": null}, "y": {"datum": 1.19, "type": "quantitative", "scale": {"domain": [0, 1]}, "axis": null}, "text": {"field": "px"}}},
         {"mark": {"type": "rule", "color": "#000", "strokeWidth": 0.8}, "encoding": {"x": {"datum": 0.077, "type": "quantitative", "scale": {"domain": [0, 1], "range": [38, 193]}, "axis": null}, "x2": {"datum": 0.935}, "y": {"datum": 1.095, "type": "quantitative", "scale": {"domain": [0, 1]}, "axis": null}}},
         {"mark": {"type": "point", "shape": "M-1,-0.7L0,0L-1,0.7", "filled": false, "size": 160, "strokeWidth": 0.8, "color": "#000", "opacity": 1}, "encoding": {"x": {"datum": 0.935, "type": "quantitative", "scale": {"domain": [0, 1], "range": [38, 193]}, "axis": null}, "y": {"datum": 1.095, "type": "quantitative", "scale": {"domain": [0, 1]}, "axis": null}}},
         {"mark": {"type": "rule", "color": "#000", "strokeWidth": 0.8}, "encoding": {"x": {"datum": 1.077, "type": "quantitative", "scale": {"domain": [0, 1], "range": [38, 193]}, "axis": null}, "y": {"datum": -0.01, "type": "quantitative", "scale": {"domain": [0, 1]}, "axis": null}, "y2": {"datum": 0.88}}},
         {"mark": {"type": "point", "shape": "M-1,-0.7L0,0L-1,0.7", "filled": false, "size": 160, "strokeWidth": 0.8, "color": "#000", "opacity": 1, "angle": -90}, "encoding": {"x": {"datum": 1.077, "type": "quantitative", "scale": {"domain": [0, 1], "range": [38, 193]}, "axis": null}, "y": {"datum": 0.88, "type": "quantitative", "scale": {"domain": [0, 1]}, "axis": null}}},
         {"mark": {"type": "text", "align": "center", "baseline": "middle", "angle": 90, "fontSize": 7, "color": "#333"}, "encoding": {"x": {"datum": 1.206, "type": "quantitative", "scale": {"domain": [0, 1], "range": [38, 193]}, "axis": null}, "y": {"datum": 0.5, "type": "quantitative", "scale": {"domain": [0, 1]}, "axis": null}, "text": {"field": "hry"}}},
         {"mark": {"type": "text", "align": "center", "baseline": "middle", "angle": 90, "fontSize": 7, "color": "#333"}, "encoding": {"x": {"datum": 1.148, "type": "quantitative", "scale": {"domain": [0, 1], "range": [38, 193]}, "axis": null}, "y": {"datum": 0.5, "type": "quantitative", "scale": {"domain": [0, 1]}, "axis": null}, "text": {"field": "py"}}}
        ]}
      ]},
     {"width": 155, "height": 116, "view": {"stroke": "#333333", "strokeWidth": 0.8},
      "resolve": {"scale": {"x": "independent", "y": "independent"}},
      "layer": [
       {"data": {"name": "cells"}, "transform": [{"filter": "datum.p == 5"}],
        "encoding": {
         "x": {"field": "c", "type": "nominal", "sort": ["n","a","b","c"], "title": null, "scale": {"paddingInner": 0, "paddingOuter": 0}, "axis": {"labelAngle": -45, "labelAlign": "right", "labelBaseline": "middle", "labelFontSize": 5, "labelPadding": 3, "domain": false, "ticks": false, "labelExpr": "datum.value == 'n' ? 'non-DM' : datum.value == 'a' ? 'DM(HbA1c < 6.5%)' : datum.value == 'b' ? 'DM(HbA1c 6.5−7.9%)' : 'DM(HbA1c ≥ 8%)'"}},
         "y": {"field": "r", "type": "nominal", "sort": ["H","M","L"], "title": null, "scale": {"paddingInner": 0, "paddingOuter": 0}, "axis": {"labelAngle": -45, "labelAlign": "right", "labelBaseline": "middle", "labelFontSize": 5, "labelPadding": 3, "domain": false, "ticks": false, "labelExpr": "datum.value == 'H' ? 'ECG−HbA1c ≥ 8%' : datum.value == 'M' ? 'ECG−HbA1c 6.5−7.9%' : 'ECG−HbA1c < 6.5%'"}}},
        "layer": [
         {"mark": {"type": "rect"}, "encoding": {"color": {"field": "hr", "type": "quantitative", "scale": {"domain": [0, 1, 5.28], "range": ["#5B9BF6", "#FFFFFF", "#EF8580"], "interpolate": "rgb"}, "legend": null}}},
         {"mark": {"type": "text", "lineBreak": "\n", "lineHeight": 9, "fontSize": 6.3, "fontWeight": "bold", "color": "#1a1a1a"}, "encoding": {"text": {"field": "lab"}}}
        ]},
       {"data": {"name": "ann"}, "transform": [{"filter": "datum.p == 5"}],
        "layer": [
         {"mark": {"type": "text", "align": "left", "baseline": "middle", "fontSize": 9, "fontWeight": "bold", "fontStyle": "italic", "color": "#000"}, "encoding": {"x": {"datum": -0.026, "type": "quantitative", "scale": {"domain": [0, 1]}, "axis": null}, "y": {"datum": 1.431, "type": "quantitative", "scale": {"domain": [0, 1]}, "axis": null}, "text": {"field": "title"}}},
         {"mark": {"type": "text", "align": "center", "baseline": "middle", "fontSize": 7, "color": "#333"}, "encoding": {"x": {"datum": 0.5, "type": "quantitative", "scale": {"domain": [0, 1]}, "axis": null}, "y": {"datum": 1.293, "type": "quantitative", "scale": {"domain": [0, 1]}, "axis": null}, "text": {"field": "hrx"}}},
         {"mark": {"type": "text", "align": "center", "baseline": "middle", "fontSize": 7, "color": "#333"}, "encoding": {"x": {"datum": 0.5, "type": "quantitative", "scale": {"domain": [0, 1]}, "axis": null}, "y": {"datum": 1.19, "type": "quantitative", "scale": {"domain": [0, 1]}, "axis": null}, "text": {"field": "px"}}},
         {"mark": {"type": "rule", "color": "#000", "strokeWidth": 0.8}, "encoding": {"x": {"datum": 0.077, "type": "quantitative", "scale": {"domain": [0, 1]}, "axis": null}, "x2": {"datum": 0.935}, "y": {"datum": 1.095, "type": "quantitative", "scale": {"domain": [0, 1]}, "axis": null}}},
         {"mark": {"type": "point", "shape": "M-1,-0.7L0,0L-1,0.7", "filled": false, "size": 160, "strokeWidth": 0.8, "color": "#000", "opacity": 1}, "encoding": {"x": {"datum": 0.935, "type": "quantitative", "scale": {"domain": [0, 1]}, "axis": null}, "y": {"datum": 1.095, "type": "quantitative", "scale": {"domain": [0, 1]}, "axis": null}}},
         {"mark": {"type": "rule", "color": "#000", "strokeWidth": 0.8}, "encoding": {"x": {"datum": 1.077, "type": "quantitative", "scale": {"domain": [0, 1]}, "axis": null}, "y": {"datum": -0.01, "type": "quantitative", "scale": {"domain": [0, 1]}, "axis": null}, "y2": {"datum": 0.88}}},
         {"mark": {"type": "point", "shape": "M-1,-0.7L0,0L-1,0.7", "filled": false, "size": 160, "strokeWidth": 0.8, "color": "#000", "opacity": 1, "angle": -90}, "encoding": {"x": {"datum": 1.077, "type": "quantitative", "scale": {"domain": [0, 1]}, "axis": null}, "y": {"datum": 0.88, "type": "quantitative", "scale": {"domain": [0, 1]}, "axis": null}}},
         {"mark": {"type": "text", "align": "center", "baseline": "middle", "angle": 90, "fontSize": 7, "color": "#333"}, "encoding": {"x": {"datum": 1.206, "type": "quantitative", "scale": {"domain": [0, 1]}, "axis": null}, "y": {"datum": 0.5, "type": "quantitative", "scale": {"domain": [0, 1]}, "axis": null}, "text": {"field": "hry"}}},
         {"mark": {"type": "text", "align": "center", "baseline": "middle", "angle": 90, "fontSize": 7, "color": "#333"}, "encoding": {"x": {"datum": 1.148, "type": "quantitative", "scale": {"domain": [0, 1]}, "axis": null}, "y": {"datum": 0.5, "type": "quantitative", "scale": {"domain": [0, 1]}, "axis": null}, "text": {"field": "py"}}}
        ]}
      ]},
     {"width": 155, "height": 116, "view": {"stroke": "#333333", "strokeWidth": 0.8},
      "resolve": {"scale": {"x": "independent", "y": "independent"}},
      "layer": [
       {"data": {"name": "cells"}, "transform": [{"filter": "datum.p == 6"}],
        "encoding": {
         "x": {"field": "c", "type": "nominal", "sort": ["n","a","b","c"], "title": null, "scale": {"paddingInner": 0, "paddingOuter": 0}, "axis": {"labelAngle": -45, "labelAlign": "right", "labelBaseline": "middle", "labelFontSize": 5, "labelPadding": 3, "domain": false, "ticks": false, "labelExpr": "datum.value == 'n' ? 'non-DM' : datum.value == 'a' ? 'DM(HbA1c < 6.5%)' : datum.value == 'b' ? 'DM(HbA1c 6.5−7.9%)' : 'DM(HbA1c ≥ 8%)'"}},
         "y": {"field": "r", "type": "nominal", "sort": ["H","M","L"], "title": null, "scale": {"paddingInner": 0, "paddingOuter": 0}, "axis": {"labelAngle": -45, "labelAlign": "right", "labelBaseline": "middle", "labelFontSize": 5, "labelPadding": 3, "domain": false, "ticks": false, "labelExpr": "datum.value == 'H' ? 'ECG−HbA1c ≥ 8%' : datum.value == 'M' ? 'ECG−HbA1c 6.5−7.9%' : 'ECG−HbA1c < 6.5%'"}}},
        "layer": [
         {"mark": {"type": "rect"}, "encoding": {"color": {"field": "hr", "type": "quantitative", "scale": {"domain": [0, 1, 10.20], "range": ["#5B9BF6", "#FFFFFF", "#EF8580"], "interpolate": "rgb"}, "legend": null}}},
         {"mark": {"type": "text", "lineBreak": "\n", "lineHeight": 9, "fontSize": 6.3, "fontWeight": "bold", "color": "#1a1a1a"}, "encoding": {"text": {"field": "lab"}}}
        ]},
       {"data": {"name": "ann"}, "transform": [{"filter": "datum.p == 6"}],
        "layer": [
         {"mark": {"type": "text", "align": "left", "baseline": "middle", "fontSize": 9, "fontWeight": "bold", "fontStyle": "italic", "color": "#000"}, "encoding": {"x": {"datum": -0.026, "type": "quantitative", "scale": {"domain": [0, 1]}, "axis": null}, "y": {"datum": 1.431, "type": "quantitative", "scale": {"domain": [0, 1]}, "axis": null}, "text": {"field": "title"}}},
         {"mark": {"type": "text", "align": "center", "baseline": "middle", "fontSize": 7, "color": "#333"}, "encoding": {"x": {"datum": 0.5, "type": "quantitative", "scale": {"domain": [0, 1]}, "axis": null}, "y": {"datum": 1.293, "type": "quantitative", "scale": {"domain": [0, 1]}, "axis": null}, "text": {"field": "hrx"}}},
         {"mark": {"type": "text", "align": "center", "baseline": "middle", "fontSize": 7, "color": "#333"}, "encoding": {"x": {"datum": 0.5, "type": "quantitative", "scale": {"domain": [0, 1]}, "axis": null}, "y": {"datum": 1.19, "type": "quantitative", "scale": {"domain": [0, 1]}, "axis": null}, "text": {"field": "px"}}},
         {"mark": {"type": "rule", "color": "#000", "strokeWidth": 0.8}, "encoding": {"x": {"datum": 0.077, "type": "quantitative", "scale": {"domain": [0, 1]}, "axis": null}, "x2": {"datum": 0.935}, "y": {"datum": 1.095, "type": "quantitative", "scale": {"domain": [0, 1]}, "axis": null}}},
         {"mark": {"type": "point", "shape": "M-1,-0.7L0,0L-1,0.7", "filled": false, "size": 160, "strokeWidth": 0.8, "color": "#000", "opacity": 1}, "encoding": {"x": {"datum": 0.935, "type": "quantitative", "scale": {"domain": [0, 1]}, "axis": null}, "y": {"datum": 1.095, "type": "quantitative", "scale": {"domain": [0, 1]}, "axis": null}}},
         {"mark": {"type": "rule", "color": "#000", "strokeWidth": 0.8}, "encoding": {"x": {"datum": 1.077, "type": "quantitative", "scale": {"domain": [0, 1]}, "axis": null}, "y": {"datum": -0.01, "type": "quantitative", "scale": {"domain": [0, 1]}, "axis": null}, "y2": {"datum": 0.88}}},
         {"mark": {"type": "point", "shape": "M-1,-0.7L0,0L-1,0.7", "filled": false, "size": 160, "strokeWidth": 0.8, "color": "#000", "opacity": 1, "angle": -90}, "encoding": {"x": {"datum": 1.077, "type": "quantitative", "scale": {"domain": [0, 1]}, "axis": null}, "y": {"datum": 0.88, "type": "quantitative", "scale": {"domain": [0, 1]}, "axis": null}}},
         {"mark": {"type": "text", "align": "center", "baseline": "middle", "angle": 90, "fontSize": 7, "color": "#333"}, "encoding": {"x": {"datum": 1.206, "type": "quantitative", "scale": {"domain": [0, 1]}, "axis": null}, "y": {"datum": 0.5, "type": "quantitative", "scale": {"domain": [0, 1]}, "axis": null}, "text": {"field": "hry"}}},
         {"mark": {"type": "text", "align": "center", "baseline": "middle", "angle": 90, "fontSize": 7, "color": "#333"}, "encoding": {"x": {"datum": 1.148, "type": "quantitative", "scale": {"domain": [0, 1]}, "axis": null}, "y": {"datum": 0.5, "type": "quantitative", "scale": {"domain": [0, 1]}, "axis": null}, "text": {"field": "py"}}}
        ]}
      ]}
    ]}
  ]
 }
]
}
